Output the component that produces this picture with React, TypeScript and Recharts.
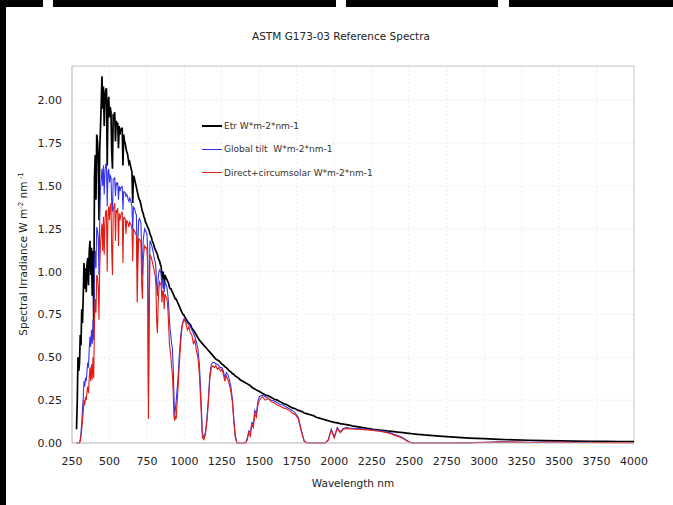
import { LineChart, Line, XAxis, YAxis, CartesianGrid, ReferenceLine, Label } from 'recharts';

// wavelength grid (nm)
const wavelengths = [
  280, 285, 290, 295, 300, 305, 310, 315, 320, 325,
  330, 335, 340, 345, 350, 355, 360, 365, 370, 375,
  380, 385, 390, 395, 400, 405, 410, 415, 420, 425,
  430, 435, 440, 445, 450, 455, 460, 465, 470, 475,
  480, 485, 490, 495, 500, 505, 510, 515, 520, 525,
  530, 535, 540, 545, 550, 555, 560, 565, 570, 575,
  580, 585, 590, 595, 600, 605, 610, 615, 620, 625,
  630, 635, 640, 645, 650, 655, 660, 665, 670, 675,
  680, 685, 690, 695, 700, 705, 710, 715, 720, 725,
  730, 735, 740, 745, 750, 755, 760, 765, 770, 775,
  780, 785, 790, 795, 800, 805, 810, 815, 820, 825,
  830, 835, 840, 845, 850, 855, 860, 865, 870, 875,
  880, 885, 890, 895, 900, 905, 910, 915, 920, 925,
  930, 935, 940, 945, 950, 955, 960, 965, 970, 975,
  980, 985, 990, 995, 1000,
  1010, 1020, 1030, 1040, 1050, 1060, 1070, 1080, 1090, 1100,
  1110, 1120, 1130, 1140, 1150, 1160, 1170, 1180, 1190, 1200,
  1210, 1220, 1230, 1240, 1250, 1260, 1270, 1280, 1290, 1300,
  1310, 1320, 1330, 1340, 1350, 1360, 1370, 1380, 1390, 1400,
  1410, 1420, 1430, 1440, 1450, 1460, 1470, 1480, 1490, 1500,
  1520, 1540, 1560, 1580, 1600, 1620, 1640, 1660, 1680, 1700,
  1720, 1740, 1760, 1780, 1800, 1820, 1840, 1860, 1880, 1900,
  1920, 1940, 1960, 1980, 2000, 2020, 2040, 2060, 2080, 2100,
  2120, 2140, 2160, 2180, 2200, 2220, 2240, 2260, 2280, 2300,
  2320, 2340, 2360, 2380, 2400, 2420, 2440, 2460, 2480, 2500,
  2520, 2540, 2560, 2580, 2600,
  2700, 2800, 2900, 3000, 3100, 3200, 3300, 3400, 3500, 3600, 3700, 3800, 3900, 4000,
];

// extraterrestrial, W*m-2*nm-1
const etr = [
  0.08, 0.24, 0.50, 0.42, 0.46, 0.63, 0.57, 0.78, 0.70, 0.86,
  1.05, 0.90, 1.02, 0.88, 1.04, 1.08, 0.92, 1.12, 1.18, 0.98,
  1.14, 0.86, 1.12, 0.70, 1.55, 1.68, 1.42, 1.80, 1.76, 1.66,
  1.30, 1.72, 1.84, 1.98, 2.14, 1.95, 2.08, 1.85, 2.02, 2.06,
  2.07, 1.62, 1.98, 2.02, 1.90, 1.96, 1.93, 1.70, 1.60, 1.92,
  1.91, 1.93, 1.76, 1.88, 1.86, 1.87, 1.72, 1.85, 1.80, 1.83,
  1.83, 1.84, 1.62, 1.80, 1.76, 1.75, 1.72, 1.70, 1.69, 1.66,
  1.63, 1.64, 1.62, 1.60, 1.58, 1.40, 1.56, 1.55, 1.53, 1.51,
  1.49, 1.47, 1.45, 1.43, 1.42, 1.41, 1.39, 1.37, 1.35, 1.34,
  1.32, 1.31, 1.29, 1.28, 1.27, 1.26, 1.25, 1.24, 1.22, 1.21,
  1.20, 1.18, 1.17, 1.16, 1.14, 1.13, 1.12, 1.11, 1.10, 1.08,
  1.07, 1.06, 1.04, 1.03, 0.95, 1.00, 0.99, 0.90, 0.98, 0.97,
  0.96, 0.95, 0.94, 0.93, 0.91, 0.90, 0.90, 0.89, 0.88, 0.87,
  0.86, 0.85, 0.84, 0.84, 0.83, 0.82, 0.81, 0.80, 0.79, 0.78,
  0.77, 0.76, 0.75, 0.75, 0.74,
  0.725, 0.71, 0.70, 0.69, 0.67, 0.66, 0.645, 0.63, 0.615, 0.60,
  0.59, 0.58, 0.57, 0.56, 0.55, 0.54, 0.53, 0.52, 0.51, 0.50,
  0.49, 0.485, 0.48, 0.47, 0.46, 0.455, 0.445, 0.44, 0.43, 0.42,
  0.415, 0.405, 0.40, 0.39, 0.385, 0.38, 0.37, 0.365, 0.36, 0.355,
  0.35, 0.345, 0.34, 0.335, 0.325, 0.32, 0.315, 0.31, 0.305, 0.30,
  0.29, 0.28, 0.275, 0.265, 0.255, 0.25, 0.24, 0.23, 0.225, 0.215,
  0.205, 0.20, 0.19, 0.185, 0.175, 0.17, 0.165, 0.16, 0.15, 0.145,
  0.14, 0.135, 0.13, 0.125, 0.12, 0.117, 0.113, 0.11, 0.107, 0.104,
  0.10, 0.097, 0.094, 0.091, 0.088, 0.085, 0.083, 0.08, 0.078, 0.076,
  0.074, 0.072, 0.07, 0.068, 0.066, 0.064, 0.062, 0.06, 0.058, 0.056,
  0.054, 0.052, 0.05, 0.049, 0.047,
  0.040, 0.034, 0.029, 0.025, 0.021, 0.018, 0.016, 0.014, 0.012, 0.011, 0.010, 0.009, 0.008, 0.008,
];

// global tilt, W*m-2*nm-1
const globalTilt = [
  0, 0, 0, 0, 0.002, 0.02, 0.06, 0.12, 0.20, 0.26,
  0.36, 0.33, 0.38, 0.36, 0.42, 0.47, 0.44, 0.55, 0.62, 0.56,
  0.66, 0.58, 0.72, 0.60, 1.00, 1.12, 1.02, 1.26, 1.24, 1.20,
  0.98, 1.30, 1.48, 1.54, 1.60, 1.50, 1.62, 1.45, 1.58, 1.63,
  1.62, 1.38, 1.58, 1.60, 1.52, 1.56, 1.55, 1.40, 1.35, 1.54,
  1.54, 1.55, 1.44, 1.52, 1.51, 1.52, 1.42, 1.50, 1.47, 1.49,
  1.49, 1.50, 1.36, 1.47, 1.46, 1.46, 1.44, 1.45, 1.44, 1.42,
  1.41, 1.43, 1.42, 1.40, 1.38, 1.24, 1.38, 1.37, 1.36, 1.34,
  1.33, 1.02, 1.18, 1.30, 1.31, 1.30, 1.28, 1.10, 0.98, 1.18,
  1.22, 1.25, 1.24, 1.23, 1.22, 1.14, 0.28, 0.85, 1.18, 1.17,
  1.16, 1.14, 1.12, 1.10, 1.07, 1.06, 1.02, 0.92, 0.86, 0.96,
  1.00, 1.01, 1.00, 0.99, 0.90, 0.96, 0.95, 0.88, 0.94, 0.93,
  0.92, 0.90, 0.86, 0.80, 0.72, 0.66, 0.62, 0.58, 0.55, 0.45,
  0.28, 0.16, 0.20, 0.24, 0.30, 0.35, 0.42, 0.50, 0.56, 0.62,
  0.66, 0.69, 0.71, 0.72, 0.73,
  0.71, 0.70, 0.69, 0.68, 0.66, 0.64, 0.62, 0.59, 0.55, 0.46,
  0.28, 0.06, 0.03, 0.06, 0.14, 0.26, 0.40, 0.46, 0.47, 0.47,
  0.46, 0.46, 0.45, 0.44, 0.44, 0.42, 0.38, 0.41, 0.40, 0.37,
  0.33, 0.26, 0.14, 0.04, 0.005, 0, 0, 0, 0, 0,
  0.004, 0.03, 0.07, 0.06, 0.12, 0.11, 0.19, 0.17, 0.24, 0.27,
  0.28, 0.27, 0.26, 0.25, 0.245, 0.235, 0.225, 0.22, 0.21, 0.20,
  0.19, 0.175, 0.15, 0.075, 0.01, 0.001, 0, 0, 0, 0,
  0, 0, 0.02, 0.08, 0.035, 0.09, 0.065, 0.085, 0.09, 0.087,
  0.086, 0.085, 0.084, 0.083, 0.082, 0.08, 0.079, 0.077, 0.075, 0.073,
  0.07, 0.067, 0.062, 0.058, 0.05, 0.045, 0.038, 0.03, 0.018, 0.006,
  0.002, 0, 0, 0, 0,
  0, 0, 0.002, 0.004, 0.007, 0.006, 0.004, 0.005, 0.006, 0.004, 0.004, 0.003, 0.003, 0.002,
];

// direct + circumsolar, W*m-2*nm-1
const direct = [
  0, 0, 0, 0, 0, 0.01, 0.04, 0.08, 0.13, 0.18,
  0.25, 0.22, 0.27, 0.25, 0.30, 0.33, 0.29, 0.38, 0.44, 0.36,
  0.46, 0.37, 0.50, 0.38, 0.72, 0.84, 0.76, 0.98, 0.97, 0.92,
  0.72, 1.02, 1.16, 1.22, 1.28, 1.12, 1.32, 1.10, 1.30, 1.35,
  1.36, 1.00, 1.32, 1.38, 1.30, 1.38, 1.40, 1.12, 0.98, 1.36,
  1.38, 1.40, 1.18, 1.36, 1.35, 1.37, 1.15, 1.34, 1.30, 1.33,
  1.34, 1.35, 1.05, 1.32, 1.31, 1.31, 1.22, 1.30, 1.29, 1.28,
  1.26, 1.29, 1.28, 1.27, 1.25, 1.06, 1.25, 1.24, 1.23, 1.22,
  1.21, 0.82, 1.04, 1.19, 1.19, 1.18, 1.17, 0.92, 0.84, 1.06,
  1.12, 1.15, 1.14, 1.14, 1.13, 1.04, 0.14, 0.72, 1.10, 1.09,
  1.08, 1.06, 1.04, 1.02, 1.00, 0.98, 0.92, 0.70, 0.64, 0.82,
  0.90, 0.94, 0.93, 0.92, 0.82, 0.89, 0.88, 0.78, 0.87, 0.86,
  0.85, 0.83, 0.78, 0.68, 0.58, 0.54, 0.50, 0.44, 0.40, 0.30,
  0.16, 0.13, 0.16, 0.14, 0.22, 0.28, 0.36, 0.44, 0.52, 0.58,
  0.64, 0.68, 0.70, 0.71, 0.72,
  0.70, 0.66, 0.68, 0.64, 0.63, 0.58, 0.60, 0.54, 0.50, 0.40,
  0.22, 0.03, 0.02, 0.05, 0.12, 0.24, 0.38, 0.44, 0.45, 0.44,
  0.45, 0.43, 0.44, 0.42, 0.43, 0.40, 0.36, 0.39, 0.37, 0.34,
  0.30, 0.24, 0.12, 0.03, 0, 0, 0, 0, 0, 0,
  0, 0.02, 0.06, 0.04, 0.11, 0.09, 0.17, 0.15, 0.22, 0.25,
  0.27, 0.25, 0.26, 0.24, 0.235, 0.22, 0.215, 0.205, 0.20, 0.19,
  0.175, 0.165, 0.14, 0.07, 0.008, 0, 0, 0, 0, 0,
  0, 0, 0.015, 0.075, 0.03, 0.085, 0.06, 0.08, 0.085, 0.082,
  0.082, 0.08, 0.08, 0.079, 0.078, 0.076, 0.075, 0.073, 0.071, 0.069,
  0.066, 0.062, 0.058, 0.054, 0.046, 0.04, 0.034, 0.026, 0.014, 0.004,
  0.001, 0, 0, 0, 0,
  0, 0, 0.001, 0.003, 0.006, 0.005, 0.003, 0.004, 0.005, 0.003, 0.003, 0.002, 0.002, 0.002,
];

const xTicks = [250, 500, 750, 1000, 1250, 1500, 1750, 2000, 2250, 2500, 2750, 3000, 3250, 3500, 3750, 4000];
const yTicks = [0, 0.25, 0.5, 0.75, 1, 1.25, 1.5, 1.75, 2];

const seriesLabels = ['Etr W*m-2*nm-1', 'Global tilt  W*m-2*nm-1', 'Direct+circumsolar W*m-2*nm-1'];
const seriesColors = ['#000000', '#3434ee', '#e31b12'];

const data = wavelengths.map((wl, i) => ({
  wl,
  etr: etr[i],
  global: globalTilt[i],
  direct: direct[i],
}));

const font = '"DejaVu Sans", Verdana, sans-serif';

function YTitle() {
  return (
    <text
      transform="translate(27 254) rotate(-90)"
      textAnchor="middle"
      fontSize={10.5}
      fontFamily={font}
      fill="#222"
    >
      Spectral Irradiance W m<tspan dy={-4} fontSize={7}>-2</tspan>
      <tspan dy={4}> nm</tspan>
      <tspan dy={-4} fontSize={7}> -1</tspan>
    </text>
  );
}

function XTitle() {
  return (
    <text x={353} y={487} textAnchor="middle" fontSize={10.5} fontFamily={font} fill="#222">
      Wavelength nm
    </text>
  );
}

export default function App() {
  return (
    <div
      style={{
        position: 'absolute',
        left: 0,
        top: 0,
        width: 673,
        height: 505,
        background: '#fff',
        overflow: 'hidden',
        fontFamily: font,
      }}
    >
      {/* black frame bits from the scan */}
      <div style={{ position: 'absolute', left: 0, top: 0, width: 6, height: 505, background: '#000' }} />
      <div style={{ position: 'absolute', left: 0, top: 0, width: 43, height: 7, background: '#000' }} />
      <div style={{ position: 'absolute', left: 53, top: 0, width: 283, height: 7, background: '#000' }} />
      <div style={{ position: 'absolute', left: 346, top: 0, width: 152, height: 7, background: '#000' }} />
      <div style={{ position: 'absolute', left: 509, top: 0, width: 164, height: 7, background: '#000' }} />

      <div
        style={{
          position: 'absolute',
          top: 30,
          left: 0,
          width: 682,
          textAlign: 'center',
          fontSize: 10.5,
          color: '#222',
        }}
      >
        ASTM G173-03 Reference Spectra
      </div>

      <LineChart width={673} height={505} data={data} margin={{ top: 66, right: 39, bottom: 32, left: 12 }}>
        <CartesianGrid stroke="#ededed" strokeDasharray="2 2" />
        <XAxis
          dataKey="wl"
          type="number"
          domain={[250, 4000]}
          ticks={xTicks}
          height={30}
          tickLine={false}
          tickMargin={8}
          axisLine={{ stroke: '#b8b8b8' }}
          tick={{ fontSize: 11, fill: '#222', fontFamily: font }}
        >
          <Label content={<XTitle />} />
        </XAxis>
        <YAxis
          type="number"
          domain={[0, 2.2]}
          ticks={yTicks}
          width={60}
          tickLine={false}
          tickMargin={4}
          axisLine={{ stroke: '#b8b8b8' }}
          tickFormatter={(v: number) => v.toFixed(2)}
          tick={{ fontSize: 11, fill: '#222', fontFamily: font }}
        >
          <Label content={<YTitle />} />
        </YAxis>
        <ReferenceLine y={2.2} stroke="#c8c8c8" />
        <ReferenceLine x={4000} stroke="#c8c8c8" />
        <Line dataKey="etr" stroke={seriesColors[0]} strokeWidth={1.7} dot={false} isAnimationActive={false} />
        <Line dataKey="global" stroke={seriesColors[1]} strokeWidth={1.1} dot={false} isAnimationActive={false} />
        <Line dataKey="direct" stroke={seriesColors[2]} strokeWidth={1.1} dot={false} isAnimationActive={false} />
      </LineChart>

      <div style={{ position: 'absolute', left: 202, top: 114, fontSize: 9, color: '#333' }}>
        {seriesLabels.map((label, i) => (
          <div key={label} style={{ display: 'flex', alignItems: 'center', height: 23.5 }}>
            <span style={{ display: 'inline-block', width: 20, height: i === 0 ? 1.5 : 1, background: seriesColors[i] }} />
            <span style={{ marginLeft: 2, whiteSpace: 'pre' }}>{label}</span>
          </div>
        ))}
      </div>
    </div>
  );
}
